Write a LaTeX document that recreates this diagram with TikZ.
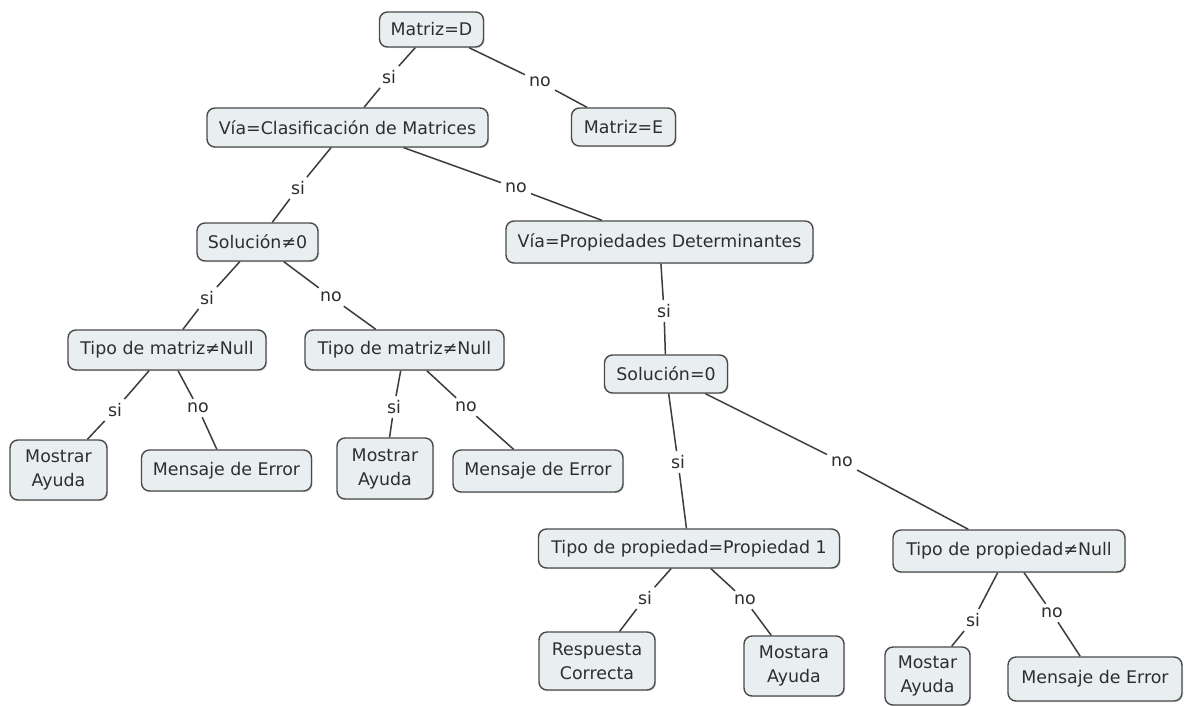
\documentclass[tikz,border=0pt]{standalone}
\usepackage{fontspec}
\setmainfont{DejaVu Sans}
\usetikzlibrary{shadows}
\definecolor{boxfill}{HTML}{E9EFF1}
\definecolor{boxline}{HTML}{4A4A4A}
\definecolor{ink}{HTML}{2E2E2E}
\definecolor{wire}{HTML}{3C3C3C}

\begin{document}
\begin{tikzpicture}[x=1pt,y=-1pt,
  concept/.style={draw=boxline, line width=1.4pt, fill=boxfill, rounded corners=8pt,
    inner sep=0pt, align=center, text=ink, font=\fontsize{17.4}{24}\selectfont,
    drop shadow={opacity=0.25, shadow xshift=1.2pt, shadow yshift=-1.2pt}},
  linkword/.style={inner sep=4pt, text=ink, font=\fontsize{17.4}{20}\selectfont},
  link/.style={draw=wire, line width=1.5pt}]
\useasboundingbox[fill=white] (0,0) rectangle (1186,705);

% concepts
\node[concept, minimum width=104pt, minimum height=35pt] (md) at (431.5,29.5) {Matriz=D};
\node[concept, minimum width=104pt, minimum height=38pt] (me) at (623.5,127) {Matriz=E};
\node[concept, minimum width=281pt, minimum height=39pt] (vc) at (347.5,127.5) {Vía=Clasificación de Matrices};
\node[concept, minimum width=121pt, minimum height=38pt] (sd) at (257.5,242) {Solución≠0};
\node[concept, minimum width=307pt, minimum height=42pt] (vp) at (659.5,242) {Vía=Propiedades Determinantes};
\node[concept, minimum width=198pt, minimum height=40pt] (tl) at (167,350) {Tipo de matriz≠Null};
\node[concept, minimum width=199pt, minimum height=40pt] (tm) at (404.5,350) {Tipo de matriz≠Null};
\node[concept, minimum width=123pt, minimum height=38pt] (sz) at (666,374) {Solución=0};
\node[concept, minimum width=97pt, minimum height=60pt] (al) at (58.5,470) {Mostrar\\Ayuda};
\node[concept, minimum width=170pt, minimum height=41pt] (el) at (226.5,470.5) {Mensaje de Error};
\node[concept, minimum width=96pt, minimum height=61pt] (am) at (385,468.5) {Mostrar\\Ayuda};
\node[concept, minimum width=170pt, minimum height=42pt] (em) at (538,471) {Mensaje de Error};
\node[concept, minimum width=301pt, minimum height=39pt] (tp) at (689,548.5) {Tipo de propiedad=Propiedad 1};
\node[concept, minimum width=232pt, minimum height=42pt] (tn) at (1009,551) {Tipo de propiedad≠Null};
\node[concept, minimum width=116pt, minimum height=58pt] (rc) at (597,661) {Respuesta\\Correcta};
\node[concept, minimum width=100pt, minimum height=60pt] (ma) at (794,666) {Mostara\\Ayuda};
\node[concept, minimum width=85pt, minimum height=58pt] (sa) at (927.5,676) {Mostar\\Ayuda};
\node[concept, minimum width=174pt, minimum height=44pt] (er) at (1095,679) {Mensaje de Error};

% linking words
\node[linkword] (l1) at (389,77) {si};
\node[linkword] (l2) at (540,82) {no};
\node[linkword] (l3) at (298,188) {si};
\node[linkword] (l4) at (516,188) {no};
\node[linkword] (l5) at (207,298) {si};
\node[linkword] (l6) at (331,297) {no};
\node[linkword] (l7) at (115,410) {si};
\node[linkword] (l8) at (198,408) {no};
\node[linkword] (l9) at (394,407) {si};
\node[linkword] (l10) at (466,407) {no};
\node[linkword] (l11) at (664,311) {si};
\node[linkword] (l12) at (678,462) {si};
\node[linkword] (l13) at (842,462) {no};
\node[linkword] (l14) at (645,598) {si};
\node[linkword] (l15) at (745,600) {no};
\node[linkword] (l16) at (973,620) {si};
\node[linkword] (l17) at (1052,613) {no};

% connections
\draw[link] (md) -- (l1) -- (vc);
\draw[link] (md) -- (l2) -- (me);
\draw[link] (vc) -- (l3) -- (sd);
\draw[link] (vc) -- (l4) -- (vp);
\draw[link] (sd) -- (l5) -- (tl);
\draw[link] (sd) -- (l6) -- (tm);
\draw[link] (tl) -- (l7) -- (al);
\draw[link] (tl) -- (l8) -- (el);
\draw[link] (tm) -- (l9) -- (am);
\draw[link] (tm) -- (l10) -- (em);
\draw[link] (vp) -- (l11) -- (sz);
\draw[link] (sz) -- (l12) -- (tp);
\draw[link] (sz) -- (l13) -- (tn);
\draw[link] (tp) -- (l14) -- (rc);
\draw[link] (tp) -- (l15) -- (ma);
\draw[link] (tn) -- (l16) -- (sa);
\draw[link] (tn) -- (l17) -- (er);
\end{tikzpicture}
\end{document}
